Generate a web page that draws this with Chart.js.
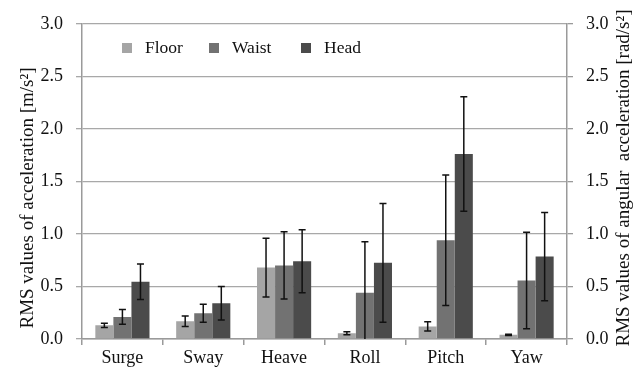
<!DOCTYPE html>
<html>
<head>
<meta charset="utf-8">
<script src="https://cdn.jsdelivr.net/npm/chart.js@4/dist/chart.umd.min.js"></script>
<style>
  html, body { margin: 0; padding: 0; background: #fff; }
  canvas { display: block; }
</style>
</head>
<body>
<canvas id="c" width="636" height="371"></canvas>
<script>
// Motion components
const categories = ['Surge', 'Sway', 'Heave', 'Roll', 'Pitch', 'Yaw'];

// RMS values per measurement location
const floorValues = [0.13, 0.17, 0.68, 0.055, 0.12, 0.04];
const waistValues = [0.21, 0.245, 0.70, 0.44, 0.94, 0.557];
const headValues  = [0.545, 0.34, 0.74, 0.725, 1.76, 0.785];

// Standard deviations (error bars)
const floorErrors = [0.02, 0.05, 0.28, 0.015, 0.045, 0.006];
const waistErrors = [0.07, 0.085, 0.32, 0.485, 0.62, 0.46];
const headErrors  = [0.17, 0.16, 0.30, 0.565, 0.545, 0.42];

// Axis ticks
const tickValues = [0, 0.5, 1.0, 1.5, 2.0, 2.5, 3.0];

const seriesNames = ['Floor', 'Waist', 'Head'];
const seriesColors = ['#a5a5a5', '#727272', '#4b4b4b'];
const errorSets = [floorErrors, waistErrors, headErrors];

const leftTitle = 'RMS values of acceleration [m/s\u00B2]';
const rightTitle = 'RMS values of angular  acceleration [rad/s\u00B2]';

const serif = '"Liberation Serif", "Times New Roman", serif';
const gridGray = '#a8a8a8';
const axisGray = '#9a9a9a';

// Vertical error bars with caps
const errorBars = {
  id: 'errorBars',
  afterDatasetsDraw(chart) {
    const ctx = chart.ctx;
    const y = chart.scales.y;
    ctx.save();
    ctx.strokeStyle = '#111';
    ctx.lineWidth = 1.5;
    chart.data.datasets.forEach((ds, i) => {
      const meta = chart.getDatasetMeta(i);
      meta.data.forEach((bar, j) => {
        const v = ds.data[j];
        const e = errorSets[i][j];
        const hi = v + e;
        const lo = Math.max(v - e, 0);
        const x = bar.x;
        const yHi = y.getPixelForValue(hi);
        const yLo = y.getPixelForValue(lo);
        const cap = 3.5;
        ctx.beginPath();
        ctx.moveTo(x, yHi); ctx.lineTo(x, yLo);
        ctx.moveTo(x - cap, yHi); ctx.lineTo(x + cap, yHi);
        if (v - e > 0) { ctx.moveTo(x - cap, yLo); ctx.lineTo(x + cap, yLo); }
        ctx.stroke();
      });
    });
    ctx.restore();
  }
};

// Legend inside the plot area and the two rotated axis titles
const annotations = {
  id: 'annotations',
  afterDraw(chart) {
    const ctx = chart.ctx;
    ctx.save();
    const squares = [122, 209, 301];
    ctx.font = '17.5px ' + serif;
    ctx.textBaseline = 'middle';
    ctx.textAlign = 'left';
    seriesNames.forEach((name, i) => {
      ctx.fillStyle = seriesColors[i];
      ctx.fillRect(squares[i], 43, 10, 10);
      ctx.fillStyle = '#111';
      ctx.fillText(name, squares[i] + 23, 48.5);
    });

    ctx.font = '19px ' + serif;
    ctx.textAlign = 'center';
    ctx.fillStyle = '#111';
    ctx.save();
    ctx.translate(28, 198);
    ctx.rotate(-Math.PI / 2);
    ctx.fillText(leftTitle, 0, 0);
    ctx.restore();
    ctx.save();
    ctx.translate(624, 178);
    ctx.rotate(-Math.PI / 2);
    ctx.fillText(rightTitle, 0, 0);
    ctx.restore();
    ctx.restore();
  }
};

const tickFont = { family: serif, size: 18 };
const fmt = v => Number(v).toFixed(1);

new Chart(document.getElementById('c'), {
  type: 'bar',
  data: {
    labels: categories,
    datasets: [
      { label: seriesNames[0], data: floorValues, backgroundColor: seriesColors[0] },
      { label: seriesNames[1], data: waistValues, backgroundColor: seriesColors[1] },
      { label: seriesNames[2], data: headValues,  backgroundColor: seriesColors[2] }
    ]
  },
  options: {
    responsive: false,
    devicePixelRatio: 1,
    animation: false,
    categoryPercentage: 0.67,
    barPercentage: 1.0,
    layout: { padding: { top: 23, left: 0, right: 0, bottom: 0 } },
    plugins: { legend: { display: false }, tooltip: { enabled: false } },
    scales: {
      x: {
        offset: true,
        grid: { display: true, offset: true, drawOnChartArea: false, drawTicks: true, tickLength: 6, color: axisGray, lineWidth: 1.5 },
        border: { display: true, color: axisGray, width: 1.5 },
        ticks: { font: tickFont, color: '#111', padding: 2, maxRotation: 0 },
        afterFit(s) { s.height = 32; }
      },
      y: {
        min: 0, max: 3,
        afterBuildTicks(s) { s.ticks = tickValues.map(v => ({ value: v })); },
        ticks: { font: tickFont, color: '#111', padding: 13, callback: fmt },
        grid: { color: gridGray, lineWidth: 1.3, tickLength: 6 },
        border: { display: true, color: axisGray, width: 1.5 },
        afterFit(s) { s.width = 82; }
      },
      y2: {
        position: 'right',
        min: 0, max: 3,
        afterBuildTicks(s) { s.ticks = tickValues.map(v => ({ value: v })); },
        ticks: { font: tickFont, color: '#111', padding: 13, callback: fmt },
        grid: { drawOnChartArea: false, color: axisGray, lineWidth: 1.3, tickLength: 6 },
        border: { display: true, color: axisGray, width: 1.5 },
        afterFit(s) { s.width = 69; }
      }
    }
  },
  plugins: [errorBars, annotations]
});
</script>
</body>
</html>
